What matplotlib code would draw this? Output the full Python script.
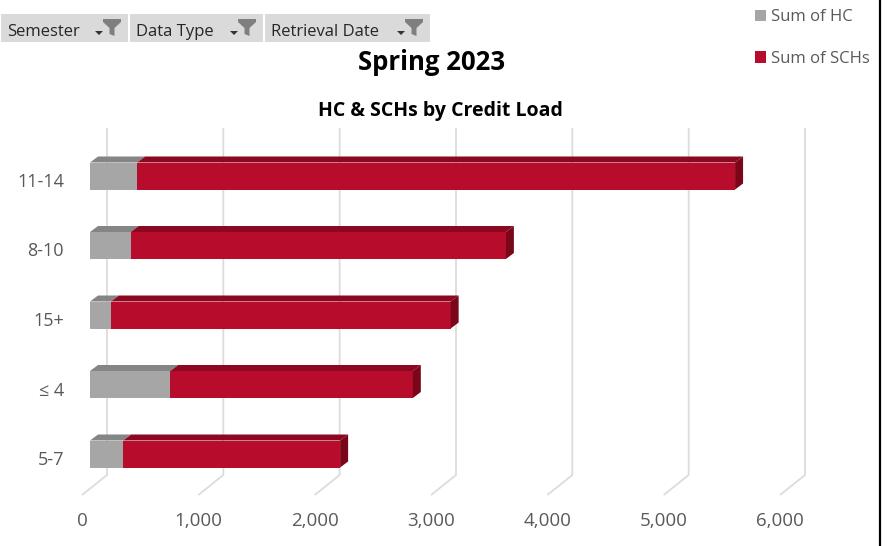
import matplotlib
matplotlib.use('Agg')
import matplotlib.pyplot as plt
from matplotlib.patches import Polygon, Rectangle
import numpy as np

# ---------------- data ----------------
categories = ['11-14', '8-10', '15+', '\u2264 4', '5-7']
hc = [405, 350, 180, 690, 285]
schs = [5140, 3225, 2920, 2085, 1865]
xticks = [0, 1000, 2000, 3000, 4000, 5000, 6000]
xtick_labels = ['0', '1,000', '2,000', '3,000', '4,000', '5,000', '6,000']
title = 'Spring 2023'
subtitle = 'HC & SCHs by Credit Load'
filters = ['Semester', 'Data Type', 'Retrieval Date']
series_names = ['Sum of HC', 'Sum of SCHs']

plt.rcParams['font.family'] = ['Open Sans', 'DejaVu Sans']

W, H = 893, 546
fig = plt.figure(figsize=(W / 100, H / 100), dpi=100)
fig.patch.set_facecolor('white')

# overlay in pixel coordinates for the decorations
ov = fig.add_axes([0, 0, 1, 1])
ov.set_xlim(0, W)
ov.set_ylim(H, 0)
ov.axis('off')

# --------------- main plot geometry (pixels) ---------------
ax_l, ax_r, ax_t, ax_b = 40, 870, 110, 540
x0px = 90.0                 # pixel of value 0 on bar front face
s = 698.0 / 6000.0          # px per unit
row0, pitch = 176.0, 69.5   # first row centre, row pitch (px)

ax = fig.add_axes([ax_l / W, 1 - ax_b / H, (ax_r - ax_l) / W, (ax_b - ax_t) / H])
ax.set_facecolor('none')
ax.set_xlim((ax_l - x0px) / s, (ax_r - x0px) / s)
ax.set_ylim((ax_b - row0) / pitch, (ax_t - row0) / pitch)
ax.axis('off')

ux = 1.0 / s
uy = 1.0 / pitch

gray_front, gray_top = '#A6A6A6', '#858585'
red_front, red_top, red_side = '#B80C2D', '#8C0820', '#7A0619'
grid_c = '#DCDCDC'
txt_c = '#595959'

# gridlines on back wall + floor
for t in xticks:
    xb = t + 17 * ux
    xf = t - 8 * ux
    ax.plot([xb, xb, xf], [(128 - row0) * uy, (475 - row0) * uy, (495 - row0) * uy],
            color=grid_c, lw=1.3, zorder=1, solid_capstyle='butt')

for t, lab in zip(xticks, xtick_labels):
    ax.text(t - 8 * ux, (521 - row0) * uy, lab, ha='center', va='center',
            fontsize=13.5, color=txt_c)

y = np.arange(len(categories))
bh = 27 * uy
dx, dy = 8 * ux, 6 * uy
b1 = ax.barh(y, hc, height=bh, color=gray_front, zorder=3, label=series_names[0])
b2 = ax.barh(y, schs, left=hc, height=bh, color=red_front, zorder=3, label=series_names[1])

for i in range(len(categories)):
    yt = y[i] - bh / 2
    yb = y[i] + bh / 2
    for left, width, col in ((0, hc[i], gray_top), (hc[i], schs[i], red_top)):
        ax.add_patch(Polygon([(left, yt), (left + width, yt), (left + width + dx, yt - dy),
                              (left + dx, yt - dy)], closed=True, facecolor=col,
                             edgecolor='none', zorder=3))
    x1 = hc[i] + schs[i]
    ax.add_patch(Polygon([(x1, yt), (x1 + dx, yt - dy), (x1 + dx, yb - dy), (x1, yb)],
                         closed=True, facecolor=red_side, edgecolor='none', zorder=3))
    ax.text(-26 * ux, y[i] + 6 * uy, categories[i], ha='right', va='center',
            fontsize=13, color=txt_c)

# titles
fig.text(432 / W, 1 - 70 / H, title, ha='center', va='baseline', fontsize=18.5,
         fontweight='bold', color='black')
fig.text(440 / W, 1 - 116 / H, subtitle, ha='center', va='baseline', fontsize=14,
         fontweight='bold', color='black')

# filter buttons
boxes = [(1, 128), (130, 263), (265, 430)]
for (bx0, bx1), name in zip(boxes, filters):
    ov.add_patch(Rectangle((bx0, 14), bx1 - bx0, 28, facecolor='#DADADA', edgecolor='none'))
    ov.text(bx0 + 6, 36, name, ha='left', va='baseline', fontsize=12, color='#262626')
    ax0 = bx1 - 33
    ov.add_patch(Polygon([(ax0, 31), (ax0 + 8, 31), (ax0 + 4, 35)], closed=True,
                         facecolor='#333333', edgecolor='none'))
    fx = bx1 - 25
    ov.add_patch(Polygon([(fx, 19), (fx + 18, 19), (fx + 18, 22), (fx + 11.5, 28),
                          (fx + 11.5, 36), (fx + 6.5, 34), (fx + 6.5, 28), (fx, 22)],
                         closed=True, facecolor='#7F7F7F', edgecolor='none'))

# right border
ov.plot([880, 880], [0, H], color='black', lw=1.6)

# legend
leg = fig.legend(handles=[b1, b2], labels=series_names, loc='upper left',
                 bbox_to_anchor=(755 / W, 1 - 9 / H), frameon=False, fontsize=12,
                 labelcolor=txt_c, handlelength=0.65, handleheight=0.65,
                 handletextpad=0.3, labelspacing=1.55, borderpad=0, borderaxespad=0)

fig.savefig('out.png', dpi=100, facecolor='white')
